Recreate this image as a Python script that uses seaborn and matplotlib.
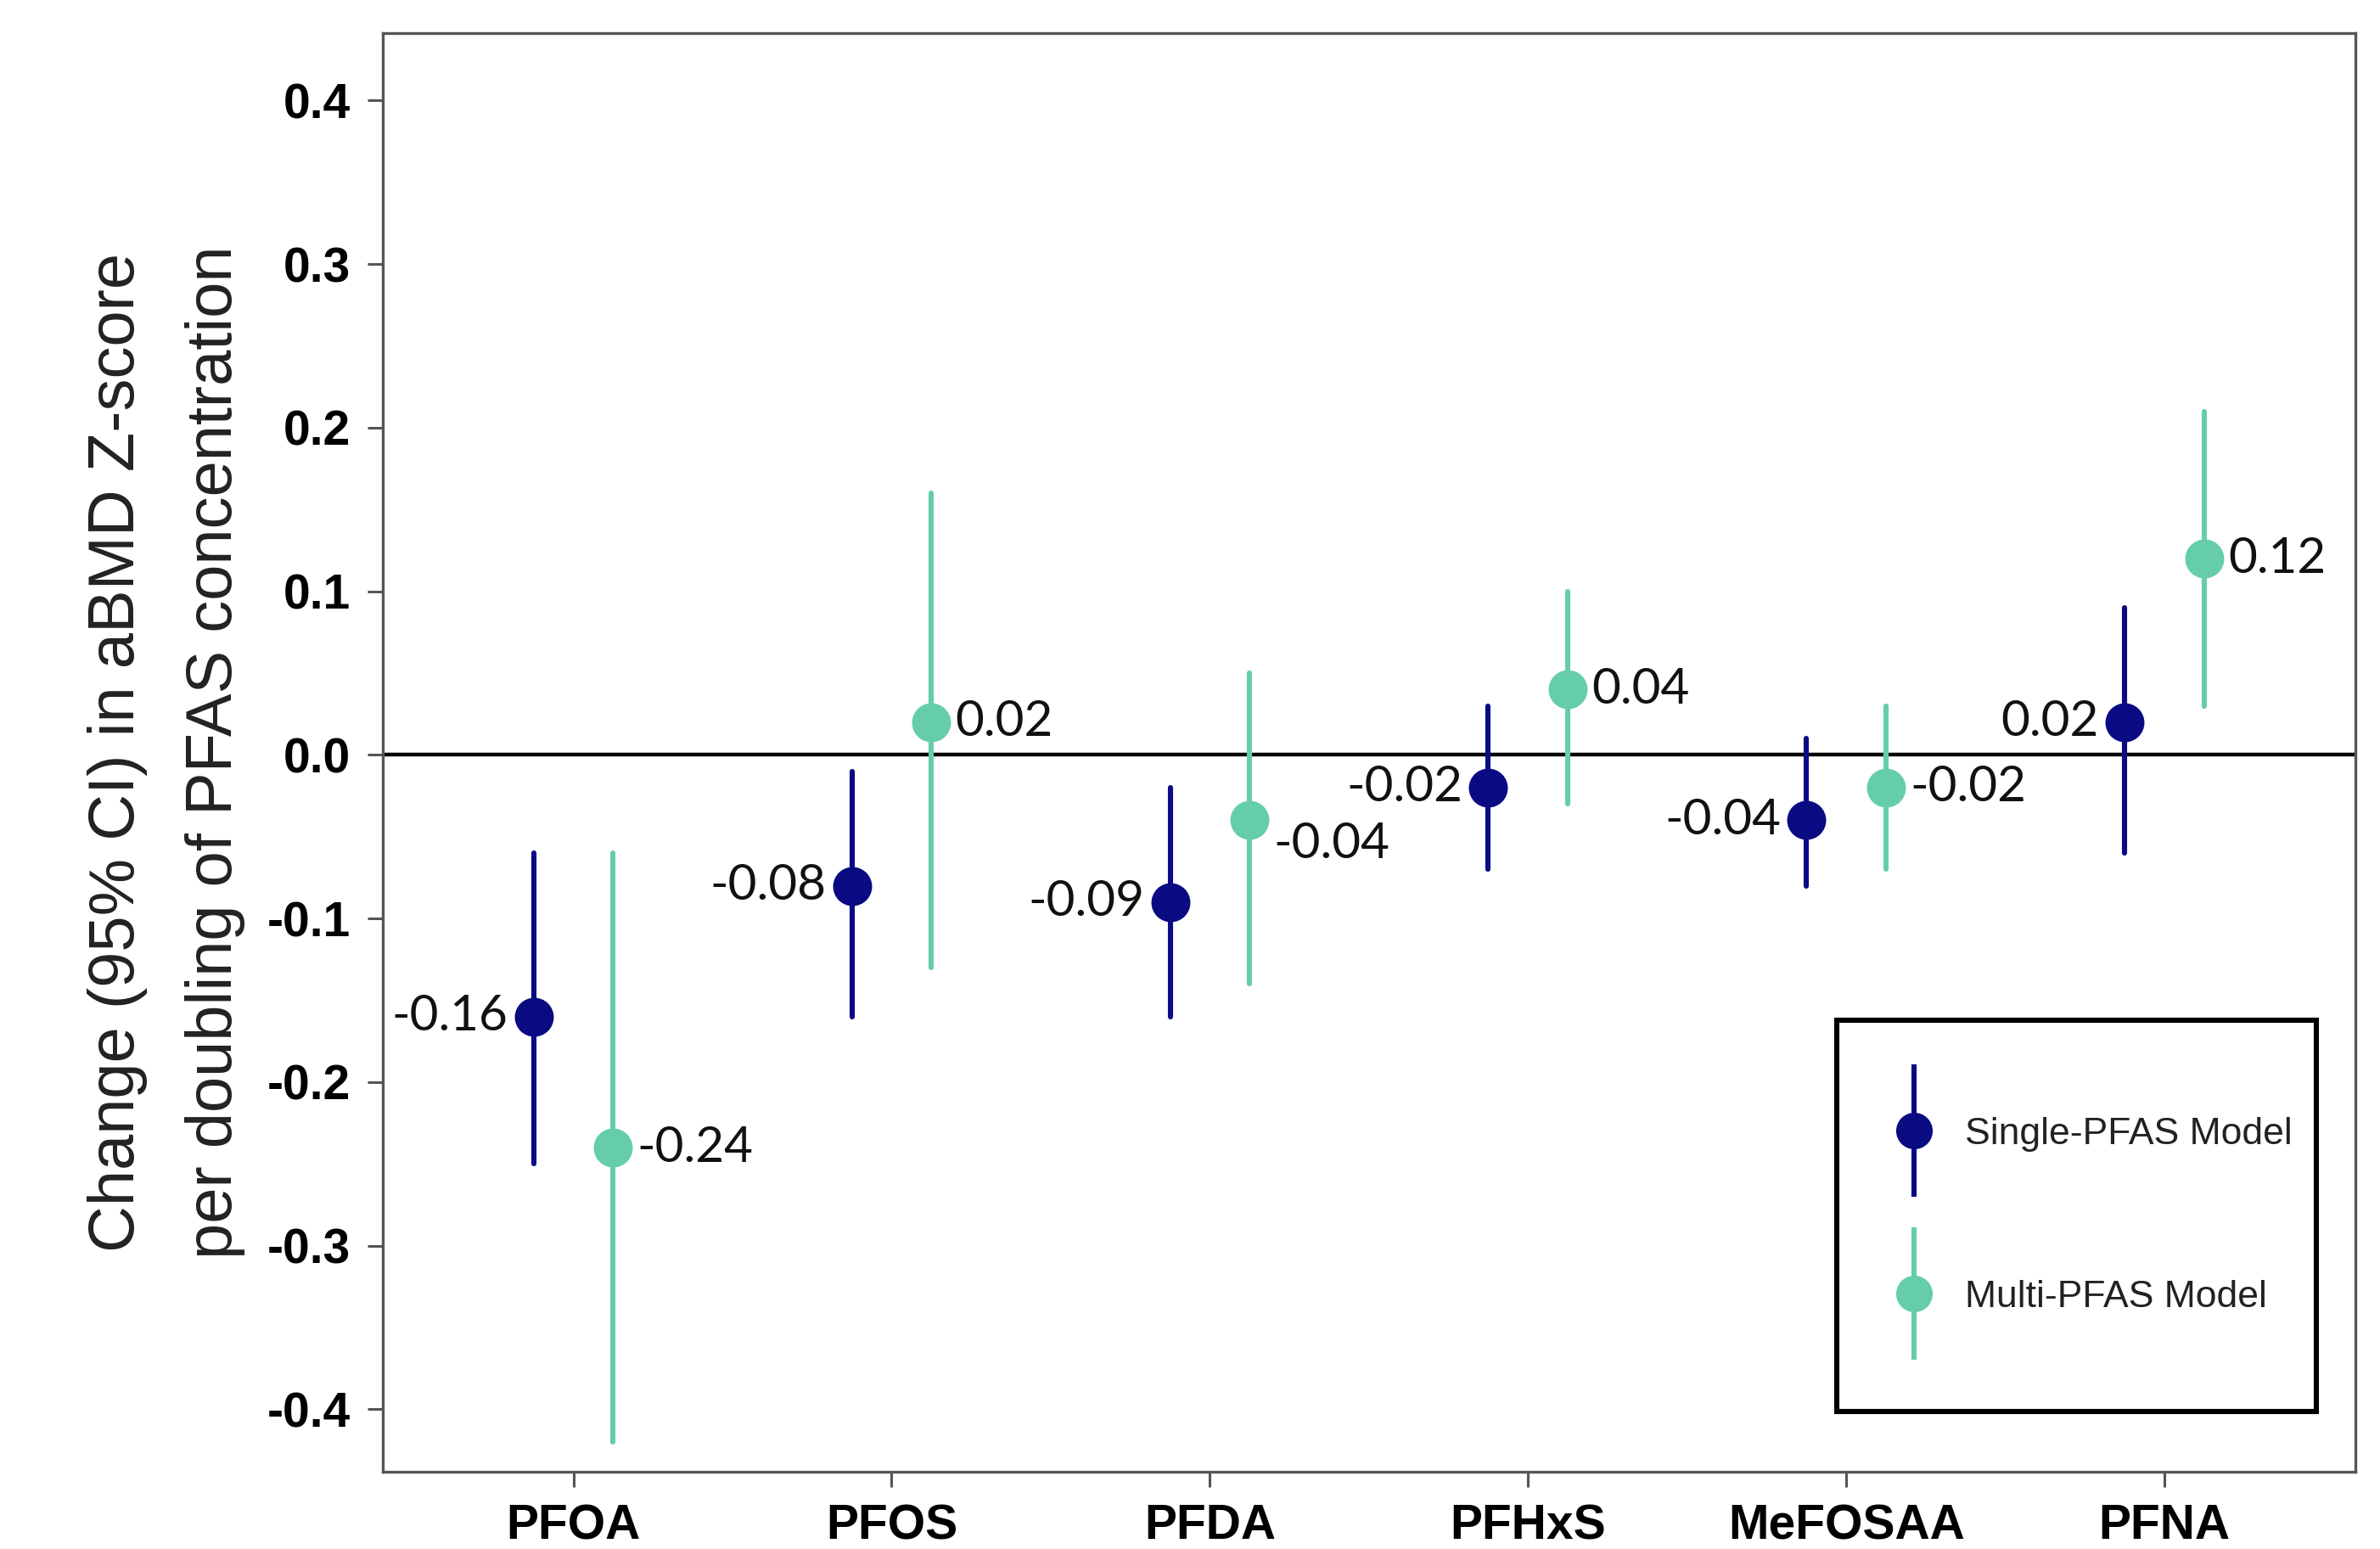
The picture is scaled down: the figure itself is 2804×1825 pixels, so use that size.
import numpy as np
import pandas as pd
import matplotlib.pyplot as plt
import seaborn as sns
from matplotlib.lines import Line2D
from matplotlib.patches import Rectangle
from matplotlib.legend_handler import HandlerTuple

# Estimates and 95% CI
compounds = ["PFOA", "PFOS", "PFDA", "PFHxS", "MeFOSAA", "PFNA"]
models = ["Single-PFAS Model", "Multi-PFAS Model"]

single_est = [-0.16, -0.08, -0.09, -0.02, -0.04, 0.02]
single_lo = [-0.25, -0.16, -0.16, -0.07, -0.08, -0.06]
single_hi = [-0.06, -0.01, -0.02, 0.03, 0.01, 0.09]

multi_est = [-0.24, 0.02, -0.04, 0.04, -0.02, 0.12]
multi_lo = [-0.42, -0.13, -0.14, -0.03, -0.07, 0.03]
multi_hi = [-0.06, 0.16, 0.05, 0.10, 0.03, 0.21]

yticks = [0.4, 0.3, 0.2, 0.1, 0.0, -0.1, -0.2, -0.3, -0.4]
palette = {"Single-PFAS Model": "#0a0a82", "Multi-PFAS Model": "#66cdaa"}

sns.set_style("ticks")
plt.rcParams["font.family"] = ["Liberation Sans", "DejaVu Sans"]

# long table: lo / est / hi per group -> median gives the estimate, 100% interval gives the CI
rows = []
for model, est, lo, hi in [(models[0], single_est, single_lo, single_hi),
                           (models[1], multi_est, multi_lo, multi_hi)]:
    for c, e, l, h in zip(compounds, est, lo, hi):
        for v in (l, e, h):
            rows.append({"compound": c, "model": model, "value": v})
df = pd.DataFrame(rows)

fig = plt.figure(figsize=(14.02, 9.125), dpi=200)
ax = fig.add_axes([0.1607, 0.050, 0.829, 0.9285])

ax.axhline(0, color="black", lw=1.6, zorder=1)

sns.pointplot(data=df, x="compound", y="value", hue="model",
              order=compounds, hue_order=models, palette=palette,
              estimator="median", errorbar=("pi", 100),
              dodge=0.25, linestyle="none", markers="o",
              markersize=14.5, err_kws={"linewidth": 2.2},
              ax=ax, zorder=3)

# value labels next to each point
point_lines = [l for l in ax.lines if l.get_marker() == "o" and len(l.get_xdata()) == len(compounds)]
for k, line in enumerate(point_lines[:2]):
    xs = line.get_xdata()
    ys = line.get_ydata()
    for i, (x, y) in enumerate(zip(xs, ys)):
        txt = f"{y:.2f}"
        if k == 0:
            ax.annotate(txt, (x, y), xytext=(-11, 0), textcoords="offset points",
                        ha="right", va="center", fontsize=21, family="Lato", color="#111111")
        else:
            dy = -10 if compounds[i] == "PFDA" else 0
            ax.annotate(txt, (x, y), xytext=(10, dy), textcoords="offset points",
                        ha="left", va="center", fontsize=21, family="Lato", color="#111111")

ax.set_xlim(-0.6, 5.6)
ax.set_ylim(-0.438, 0.441)
ax.set_yticks(yticks)
ax.set_yticklabels([f"{t:.1f}" for t in yticks])
ax.set_xlabel("")
ax.set_ylabel("Change (95% CI) in aBMD Z-score\nper doubling of PFAS concentration",
              fontsize=27.3, linespacing=1.8, color="#222222")
ax.yaxis.set_label_coords(-0.0697, 0.5)

for lab in ax.get_xticklabels() + ax.get_yticklabels():
    lab.set_fontweight("bold")
    lab.set_fontsize(20.5)
    lab.set_color("black")
ax.tick_params(axis="both", length=6.5, width=1.1, color="#555555")
ax.tick_params(axis="y", pad=7)
ax.tick_params(axis="x", pad=7)
for sp in ax.spines.values():
    sp.set_color("#555555")
    sp.set_linewidth(1.2)

# legend with vertical CI bars through the markers, in a square black box
ax.get_legend().remove()
handles = []
for m in models:
    c = palette[m]
    bar = Line2D([], [], marker="|", markersize=56, markeredgewidth=2.2, color=c, linestyle="none")
    dot = Line2D([], [], marker="o", markersize=14.5, color=c, linestyle="none")
    handles.append((bar, dot))
box = (0.737, 0.042, 0.243, 0.272)
ax.add_patch(Rectangle(box[:2], box[2], box[3], transform=ax.transAxes,
                       fill=False, edgecolor="black", lw=2.2, zorder=5))
leg = ax.legend(handles, models, handler_map={tuple: HandlerTuple(ndivide=1)},
                loc="center", bbox_to_anchor=(box[0] + 0.009, box[1], box[2], box[3]),
                borderaxespad=0, fontsize=16, frameon=False,
                handlelength=1.0, labelspacing=3.4, handletextpad=0.85)
for t in leg.get_texts():
    t.set_color("#222222")

fig.savefig("out.png", dpi=200)
